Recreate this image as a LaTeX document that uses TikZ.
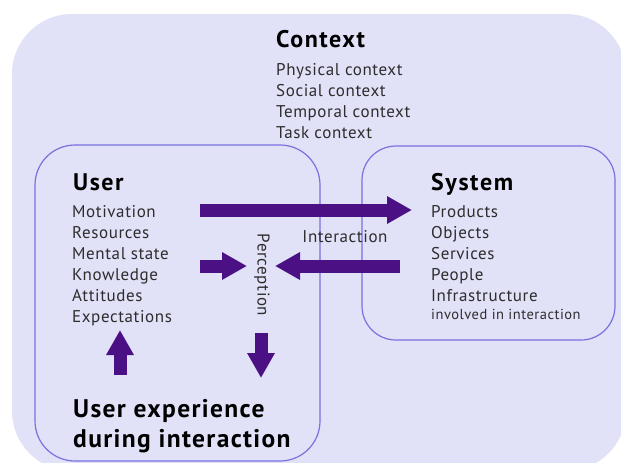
\documentclass[tikz,border=0pt]{standalone}
\usepackage{fontspec}
\setmainfont{PT Sans}[LetterSpace=3.5]
\usetikzlibrary{arrows.meta, positioning}
\definecolor{ctxfill}{RGB}{225,225,248}
\definecolor{boxline}{RGB}{122,112,222}
\definecolor{flowpurple}{RGB}{74,16,132}
\definecolor{itemgray}{RGB}{45,45,45}
\tikzset{
	% headings of the areas
	heading/.style={
		anchor=base west,
		inner sep=0pt,
		font=\bfseries\fontsize{24}{28}\selectfont\addfontfeatures{LetterSpace=6.5}
	}, %
	% list entries
	entry/.style={
		anchor=base west,
		inner sep=0pt,
		text=itemgray,
		font=\fontsize{17}{21}\selectfont
	}, %
	area/.style={draw=boxline, line width=1.2pt},
	flow/.style={flowpurple, line width=13pt, -{Triangle[length=25pt, width=26pt]}}
}

\begin{document}
\begin{tikzpicture}[x=1pt, y=-1pt]
	\clip (0,0) rectangle (621,463);
	\fill [white] (0,0) rectangle (621,463);

	%% Context
	\fill [ctxfill, rounded corners=60] (12,14) rectangle (626,471);
	\node [heading] (context) at (276,47) {Context};
	\foreach \txt [count=\i] in {Physical context, Social context, Temporal context, Task context} {
		\node [entry] (ctx\i) at (276, 54+21*\i) {\txt};
	}

	%% User
	\draw [area, rounded corners=40] (35,145) rectangle (320,461);
	\node [heading] (user) at (73,190) {User};
	\foreach \txt [count=\i] in {Motivation, Resources, Mental state, Knowledge, Attitudes, Expectations} {
		\node [entry] (usr\i) at (72, 196+21*\i) {\txt};
	}
	\node [heading, font=\bfseries\fontsize{25.5}{30}\selectfont\addfontfeatures{LetterSpace=5.3}] (ux1) at (73,417) {User experience};
	\node [heading, font=\bfseries\fontsize{25.5}{30}\selectfont\addfontfeatures{LetterSpace=5.3}] (ux2) at (73,447) {during interaction};

	%% System
	\draw [area, rounded corners=34] (362,146) rectangle (615,340);
	\node [heading] (system) at (431,190) {System};
	\foreach \txt [count=\i] in {Products, Objects, Services, People, Infrastructure} {
		\node [entry] (sys\i) at (431, 196+21*\i) {\txt};
	}
	\node [entry, font=\fontsize{14.5}{16}\selectfont] (sys6) at (431,319) {involved in interaction};

	%% Interaction, perception
	\node [entry, anchor=base] (interaction) at (345,242) {Interaction};
	\node [entry, anchor=center, rotate=-90] (perception) at (262,275) {Perception};

	\coordinate (act-a) at (200,210);
	\coordinate (act-b) at (412,210);
	\coordinate (in-a) at (200,266);
	\coordinate (in-b) at (247,266);
	\coordinate (fb-a) at (400,266);
	\coordinate (fb-b) at (275,266);
	\coordinate (ux-a) at (261,333);
	\coordinate (ux-b) at (261,378);
	\coordinate (back-a) at (120,375);
	\coordinate (back-b) at (120,330);
	\draw [flow] (act-a) -- (act-b);
	\draw [flow] (in-a) -- (in-b);
	\draw [flow] (fb-a) -- (fb-b);
	\draw [flow] (ux-a) -- (ux-b);
	\draw [flow] (back-a) -- (back-b);
\end{tikzpicture}
\end{document}
